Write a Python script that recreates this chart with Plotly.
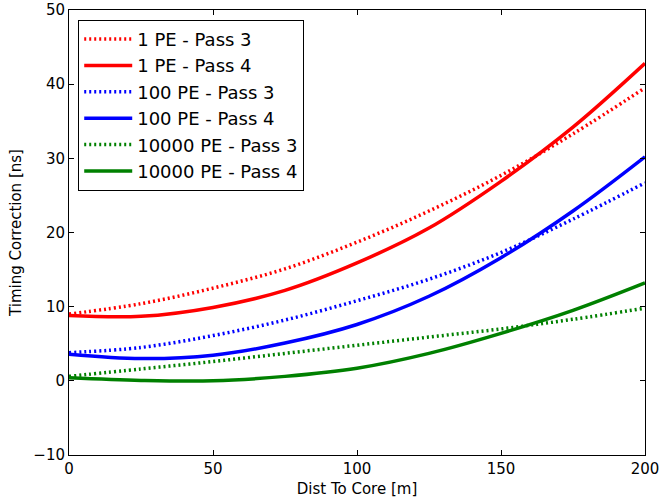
import plotly.graph_objects as go

dist = [0, 25, 50, 75, 100, 125, 150, 175, 200]

pe1_pass3 = [9.0, 10.4, 12.5, 15.1, 18.7, 22.9, 27.7, 33.3, 39.5]
pe1_pass4 = [8.8, 8.7, 9.9, 12.2, 15.9, 20.6, 26.9, 34.2, 42.8]
pe100_pass3 = [3.8, 4.5, 6.1, 8.2, 10.8, 13.7, 17.3, 21.8, 26.7]
pe100_pass4 = [3.6, 3.0, 3.45, 5.1, 7.6, 11.4, 16.6, 22.9, 30.2]
pe10000_pass3 = [0.6, 1.6, 2.6, 3.7, 4.8, 5.9, 7.0, 8.3, 9.8]
pe10000_pass4 = [0.4, 0.05, 0.0, 0.6, 1.7, 3.7, 6.4, 9.5, 13.2]

series = [
    ("1 PE - Pass 3", pe1_pass3, "#ff0000", "2px,3px"),
    ("1 PE - Pass 4", pe1_pass4, "#ff0000", "solid"),
    ("100 PE - Pass 3", pe100_pass3, "#0000ff", "2px,3px"),
    ("100 PE - Pass 4", pe100_pass4, "#0000ff", "solid"),
    ("10000 PE - Pass 3", pe10000_pass3, "#008000", "2px,3px"),
    ("10000 PE - Pass 4", pe10000_pass4, "#008000", "solid"),
]

fig = go.Figure()
for name, ys, color, dash in series:
    fig.add_trace(go.Scatter(
        x=dist, y=ys, mode="lines", name=name,
        line=dict(color=color, width=3.5, dash=dash, shape="spline"),
    ))

axis_common = dict(
    showline=True, linecolor="black", linewidth=1, mirror="allticks",
    ticks="inside", ticklen=5, tickcolor="black", tickwidth=1,
    showgrid=False, zeroline=False, automargin=False,
    tickfont=dict(family="DejaVu Sans", size=15, color="black"),
)

fig.update_layout(
    width=662, height=503,
    margin=dict(l=69, r=17, t=10, b=48),
    paper_bgcolor="white", plot_bgcolor="white",
    font=dict(family="DejaVu Sans", color="black"),
    xaxis=dict(range=[0, 200], tickvals=[0, 50, 100, 150, 200],
               title=dict(text="Dist To Core [m]", font=dict(size=15), standoff=6),
               **axis_common),
    yaxis=dict(range=[-10, 50], tickvals=[-10, 0, 10, 20, 30, 40, 50],
               title=dict(text="Timing Correction [ns]", font=dict(size=15), standoff=8),
               **axis_common),
    legend=dict(x=0.016, y=0.978, xanchor="left", yanchor="top",
                bordercolor="black", borderwidth=1, bgcolor="white",
                font=dict(family="DejaVu Sans", size=18, color="black"),
                itemwidth=48),
    showlegend=True,
)

fig.write_html("out.html",
               config={"displayModeBar": False},
               post_script="document.body.style.margin='0';document.body.style.padding='0';")
